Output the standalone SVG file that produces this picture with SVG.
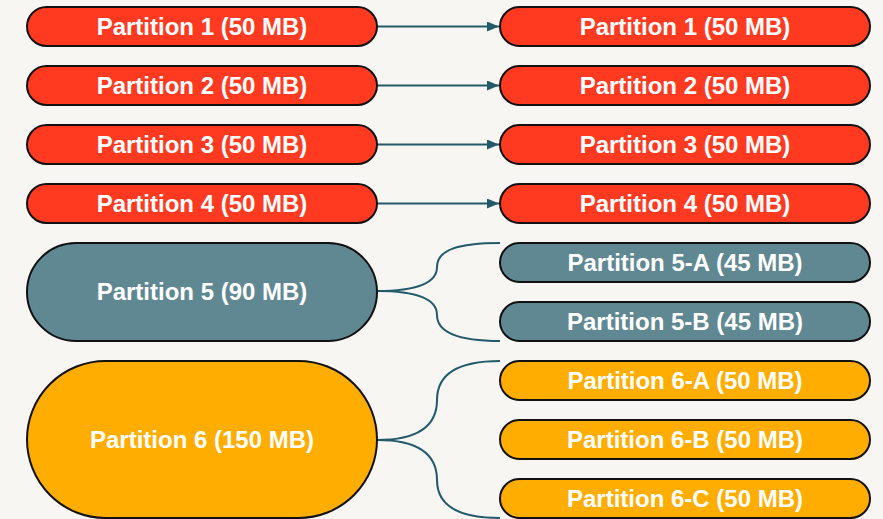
<svg xmlns="http://www.w3.org/2000/svg" width="883" height="519" viewBox="0 0 883 519">
<defs>
<marker id="arr" viewBox="0 0 12 10" refX="12" refY="5" markerWidth="12" markerHeight="10" markerUnits="userSpaceOnUse" orient="auto">
<path d="M0,0 L12,5 L0,10 z" fill="#235a6b"/>
</marker>
</defs>
<style>
.n rect{stroke:#111;stroke-width:2}
.r rect{fill:#ff3a20}
.g rect{fill:#5f8892}
.o rect{fill:#ffad00}
text{font-family:"Liberation Sans",Arial,sans-serif;font-weight:bold;font-size:24px;fill:#fff;text-anchor:middle}
.e path{fill:none;stroke:#235a6b;stroke-width:2}
</style>
<rect width="883" height="519" fill="#f7f6f3"/>
<g class="e" id="edges">
<path d="M377,26.5 L499,26.5" marker-end="url(#arr)"/>
<path d="M377,85.5 L499,85.5" marker-end="url(#arr)"/>
<path d="M377,144.5 L499,144.5" marker-end="url(#arr)"/>
<path d="M377,203.5 L499,203.5" marker-end="url(#arr)"/>
<path d="M377,291 C412,291 437,285 437,267 C437,250 458,243 500,243"/>
<path d="M377,291 C412,291 437,297 437,315 C437,332 458,341 500,341"/>
<path d="M377,440 C420,440 437,425 437,400 C437,376 455,361 500,361"/>
<path d="M377,440 C420,440 437,455 437,480 C437,504 455,518 500,518"/>
</g>
<g id="l1" class="n r"><rect x="27" y="7" width="350" height="39" rx="19.5"/><text x="202" y="34.5">Partition 1 (50 MB)</text></g>
<g id="l2" class="n r"><rect x="27" y="66" width="350" height="39" rx="19.5"/><text x="202" y="93.5">Partition 2 (50 MB)</text></g>
<g id="l3" class="n r"><rect x="27" y="125" width="350" height="39" rx="19.5"/><text x="202" y="152.5">Partition 3 (50 MB)</text></g>
<g id="l4" class="n r"><rect x="27" y="184" width="350" height="39" rx="19.5"/><text x="202" y="211.5">Partition 4 (50 MB)</text></g>
<g id="l5" class="n g"><rect x="27" y="243" width="350" height="98" rx="49"/><text x="202" y="300">Partition 5 (90 MB)</text></g>
<g id="l6" class="n o"><rect x="27" y="361" width="350" height="157" rx="78.5"/><text x="202" y="448">Partition 6 (150 MB)</text></g>
<g id="r1" class="n r"><rect x="500" y="7" width="370" height="39" rx="19.5"/><text x="685" y="34.5">Partition 1 (50 MB)</text></g>
<g id="r2" class="n r"><rect x="500" y="66" width="370" height="39" rx="19.5"/><text x="685" y="93.5">Partition 2 (50 MB)</text></g>
<g id="r3" class="n r"><rect x="500" y="125" width="370" height="39" rx="19.5"/><text x="685" y="152.5">Partition 3 (50 MB)</text></g>
<g id="r4" class="n r"><rect x="500" y="184" width="370" height="39" rx="19.5"/><text x="685" y="211.5">Partition 4 (50 MB)</text></g>
<g id="r5a" class="n g"><rect x="500" y="243" width="370" height="39" rx="19.5"/><text x="685" y="270.5">Partition 5-A (45 MB)</text></g>
<g id="r5b" class="n g"><rect x="500" y="302" width="370" height="39" rx="19.5"/><text x="685" y="329.5">Partition 5-B (45 MB)</text></g>
<g id="r6a" class="n o"><rect x="500" y="361" width="370" height="39" rx="19.5"/><text x="685" y="388.5">Partition 6-A (50 MB)</text></g>
<g id="r6b" class="n o"><rect x="500" y="420" width="370" height="39" rx="19.5"/><text x="685" y="447.5">Partition 6-B (50 MB)</text></g>
<g id="r6c" class="n o"><rect x="500" y="479" width="370" height="39" rx="19.5"/><text x="685" y="506.5">Partition 6-C (50 MB)</text></g>
</svg>
